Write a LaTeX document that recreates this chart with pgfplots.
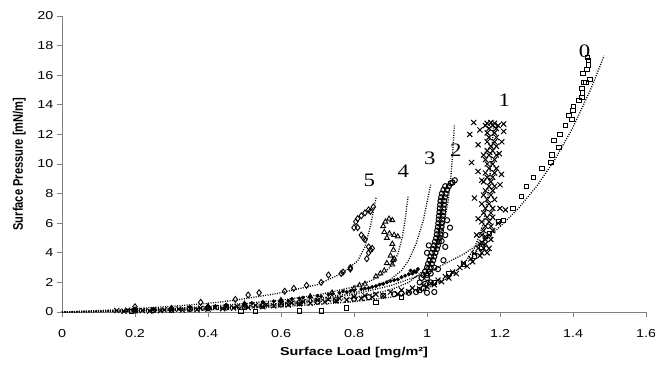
\documentclass[border=0pt]{standalone}
\usepackage{pgfplots}
\pgfplotsset{compat=1.18}
\usepackage{fontspec}
\setmainfont{Liberation Sans}[FakeStretch=1.25]
\newfontfamily\ylabfont{Liberation Sans}[FakeStretch=0.8]
\newfontfamily\timesf{Liberation Serif}[FakeStretch=1.2]
\definecolor{axgray}{RGB}{128,128,128}
\begin{document}
\begin{tikzpicture}[x=1pt,y=1pt]
\path[use as bounding box] (0,0) rectangle (655,365);
\begin{axis}[
  at={(62pt,53pt)}, anchor=south west,
  scale only axis, width=584pt, height=296pt,
  xmin=0, xmax=1.6, ymin=0, ymax=20,
  axis x line*=bottom, axis y line*=left,
  axis line style={axgray, line width=0.8pt, -},
  tick style={axgray, line width=0.8pt},
  tick align=outside, major tick length=5pt,
  xtick={0,0.2,0.4,0.6,0.8,1,1.2,1.4,1.6},
  xticklabels={0,0.2,0.4,0.6,0.8,1,1.2,1.4,1.6},
  ytick={0,2,4,6,8,10,12,14,16,18,20},
  yticklabels={0,2,4,6,8,10,12,14,16,18,20},
  tick label style={font=\fontsize{11.5}{13}\selectfont, black},
  xticklabel style={yshift=-9pt},
  xlabel={\textbf{Surface Load [mg/m²]}},
  ylabel={\ylabfont\bfseries\fontsize{13.9}{15}\selectfont Surface Pressure [mN/m]},
  label style={font=\fontsize{11.5}{13}\selectfont},
  xlabel style={at={(axis description cs:0.5,0)}, anchor=north, inner sep=0pt, yshift=-35pt},
  ylabel style={at={(axis description cs:0,0.5)}, anchor=south, inner sep=0pt, yshift=36pt},
  clip=false,
  every axis plot/.append style={black},
  fitline/.style={no marks, black, line width=1.3pt, dash pattern=on 1pt off 1.4pt},
]
% series 0 (squares)
\addplot[only marks, mark=square, mark size=2.2pt, line width=0.9pt] coordinates {
(0.19,0.02)(0.49,0.02)(0.53,0.02)(0.65,0.07)(0.71,0.08)(0.78,0.27)(0.86,0.65)(0.93,1.0)(0.98,1.5)(1.02,2.0)(1.06,2.6)(1.1,3.2)(1.13,3.8)(1.15,4.4)
(1.171,5.3)(1.196,6.1)(1.209,6.2)(1.236,7.0)(1.258,7.8)(1.272,8.5)(1.291,9.1)(1.315,9.7)(1.340,10.1)(1.342,10.6)(1.361,11.1)(1.348,11.6)(1.364,12.0)
(1.380,12.6)(1.397,13.0)(1.389,13.3)(1.40,13.6)(1.402,13.9)(1.416,14.3)(1.424,14.5)(1.426,14.8)(1.424,15.1)(1.435,15.5)(1.446,15.7)(1.43,15.5)
(1.427,16.1)(1.438,16.4)(1.443,16.7)(1.443,17.0)(1.44,17.2)};
% series 1 (x marks)
\addplot[only marks, mark=x, mark size=3.6pt, line width=1pt] coordinates {
(0.15,0.1)(0.17,0.05)(0.18,0.12)(0.2,0.08)(0.22,0.1)(0.24,0.06)(0.25,0.15)(0.27,0.1)(0.28,0.14)(0.3,0.12)(0.32,0.2)(0.33,0.13)(0.35,0.22)(0.37,0.16)
(0.38,0.25)(0.4,0.2)(0.42,0.3)(0.44,0.22)(0.45,0.33)(0.47,0.27)(0.48,0.38)(0.5,0.42)(0.51,0.3)(0.53,0.45)(0.55,0.36)(0.56,0.5)(0.58,0.42)
(0.6,0.58)(0.62,0.48)(0.63,0.62)(0.65,0.55)(0.66,0.7)(0.68,0.6)(0.7,0.78)(0.72,0.68)(0.73,0.85)(0.75,0.75)(0.76,0.92)(0.78,0.82)(0.8,1.02)
(0.82,0.92)(0.83,1.1)(0.85,1.0)(0.86,1.2)(0.88,1.1)(0.9,1.35)(0.92,1.22)(0.93,1.48)(0.95,1.38)(0.96,1.62)(0.98,1.55)(0.99,1.8)(1.0,1.7)
(1.01,1.95)(1.02,1.85)(1.03,2.15)(1.04,2.05)(1.05,2.4)(1.06,2.3)(1.07,2.7)(1.08,2.6)(1.09,3.0)(1.1,3.3)(1.11,3.1)(1.12,3.6)(1.125,3.4)
(1.13,3.95)(1.14,4.3)(1.145,3.8)(1.15,4.7)(1.16,5.1)
(1.15,4.0)(1.165,4.0)(1.155,4.3)(1.17,4.3)(1.145,4.6)(1.16,4.6)(1.16,4.9)(1.175,4.9)(1.15,5.2)(1.17,5.2)(1.155,5.5)(1.18,5.5)
(1.16,5.8)(1.175,5.8)(1.15,6.1)(1.17,6.1)(1.165,6.4)(1.18,6.4)(1.155,6.7)(1.175,6.7)(1.16,7.0)(1.18,7.0)(1.15,7.3)(1.17,7.3)
(1.165,7.6)(1.185,7.6)(1.155,7.9)(1.175,7.9)(1.16,8.2)(1.18,8.2)(1.17,8.5)(1.185,8.5)(1.155,8.8)(1.175,8.8)(1.165,9.1)(1.18,9.1)
(1.16,9.4)(1.185,9.4)(1.17,9.7)(1.19,9.7)(1.165,10.0)(1.18,10.0)(1.16,10.3)(1.185,10.3)(1.17,10.6)(1.19,10.6)(1.165,10.9)(1.18,10.9)
(1.175,11.2)(1.19,11.2)(1.165,11.5)(1.185,11.5)(1.17,11.8)(1.19,11.8)(1.165,12.1)(1.185,12.1)(1.17,12.4)(1.19,12.4)(1.16,12.6)(1.18,12.6)
(1.195,12.6)(1.165,12.75)(1.185,12.75)(1.175,12.8)
(1.117,12.0)(1.122,10.1)(1.13,7.7)(1.136,5.2)(1.204,9.3)(1.198,10.7)(1.128,12.8)(1.21,12.2)
(1.205,11.5)(1.2,7.0)(1.14,6.3)(1.15,8.9)(1.155,10.6)(1.2,8.6)(1.195,6.0)(1.215,6.9)(1.21,12.7)(1.14,11.3)(1.14,9.5)(1.145,12.3)};
% series 2 (circles)
\addplot[only marks, mark=o, mark size=2.6pt, line width=1pt] coordinates {
(0.2,0.1)(0.25,0.12)(0.3,0.15)(0.35,0.2)(0.4,0.25)(0.45,0.3)(0.5,0.35)(0.55,0.42)(0.6,0.5)(0.65,0.6)(0.7,0.7)(0.75,0.8)(0.8,0.9)
(0.84,1.0)(0.88,1.1)(0.91,1.2)(0.93,1.25)(0.95,1.3)(0.97,1.35)(1.0,1.3)(1.02,1.35)(0.99,1.6)(0.98,2.0)(0.985,2.3)
(0.99,2.5)(1.0,2.5)(0.995,2.75)(1.005,2.75)(1.0,3.0)(1.01,3.0)(1.003,3.25)(1.013,3.25)(1.007,3.5)(1.017,3.5)(1.01,3.75)(1.02,3.75)
(1.013,4.0)(1.023,4.0)(1.017,4.25)(1.027,4.25)(1.02,4.5)(1.03,4.5)(1.022,4.75)(1.032,4.75)(1.025,5.0)(1.035,5.0)(1.027,5.25)(1.037,5.25)
(1.028,5.5)(1.038,5.5)(1.03,5.75)(1.04,5.75)(1.031,6.0)(1.041,6.0)(1.032,6.25)(1.042,6.25)(1.033,6.5)(1.043,6.5)(1.034,6.75)(1.044,6.75)
(1.035,7.0)(1.045,7.0)(1.036,7.25)(1.046,7.25)(1.037,7.5)(1.047,7.5)(1.039,7.75)(1.049,7.75)(1.041,8.0)(1.051,8.0)(1.045,8.25)(1.055,8.25)
(1.05,8.5)(1.06,8.5)(1.065,8.7)(1.076,8.9)(1.07,8.75)
(1.063,5.7)(1.05,4.4)(1.045,3.5)(1.02,3.0)(1.0,2.3)(1.01,2.6)(1.03,2.9)(1.055,6.2)(1.05,5.2)(1.04,4.8)(1.0,4.0)(1.005,4.5)(1.01,2.0)(0.995,1.9)};
% series 3 (filled)
\addplot[only marks, mark=*, mark size=1.8pt] coordinates {
(0.2,0.15)(0.25,0.2)(0.3,0.28)(0.35,0.35)(0.4,0.43)(0.45,0.5)(0.5,0.58)(0.55,0.68)(0.6,0.8)(0.63,0.88)(0.66,0.97)(0.7,1.08)
(0.73,1.18)(0.76,1.3)(0.79,1.42)(0.82,1.55)(0.85,1.7)(0.87,1.85)(0.89,2.0)(0.91,2.15)(0.93,2.35)(0.95,2.55)(0.965,2.75)(0.975,2.9)
(0.62,0.75)(0.68,1.0)(0.74,1.2)(0.8,1.45)(0.86,1.75)(0.92,2.2)(0.42,0.4)(0.52,0.6)(0.58,0.72)(0.71,1.05)(0.78,1.35)(0.84,1.62)(0.88,1.9)(0.94,2.45)
(0.96,2.6)(0.97,2.7)(0.955,2.8)(0.9,2.1)(0.83,1.6)(0.77,1.4)(0.65,0.92)};
% series 4 (triangles)
\addplot[only marks, mark=triangle, mark size=2.8pt, line width=0.9pt] coordinates {
(0.2,0.15)(0.3,0.25)(0.4,0.38)(0.5,0.55)(0.6,0.8)(0.68,1.05)(0.74,1.3)(0.8,1.6)(0.815,1.8)(0.83,1.9)(0.86,2.4)(0.872,2.6)(0.883,2.8)
(0.89,3.3)(0.905,3.2)(0.907,3.5)(0.91,3.6)(0.90,3.8)(0.908,4.2)(0.905,4.6)(0.92,5.1)(0.91,5.2)(0.89,5.0)(0.897,5.3)(0.883,5.4)
(0.88,5.8)(0.886,6.1)(0.896,6.3)(0.905,6.2)};
% series 5 (diamonds)
\addplot[only marks, mark=diamond, mark size=3pt, line width=0.9pt] coordinates {
(0.2,0.35)(0.38,0.65)(0.475,0.85)(0.51,1.15)(0.54,1.3)(0.61,1.4)(0.635,1.6)(0.67,1.8)(0.71,2.0)(0.73,2.5)(0.765,2.6)(0.77,2.7)
(0.79,2.9)(0.79,3.0)(0.835,3.6)(0.84,4.0)(0.845,4.2)(0.85,4.3)(0.84,4.4)(0.83,4.9)(0.826,5.0)(0.82,5.2)(0.81,5.7)(0.80,5.7)
(0.805,6.1)(0.81,6.3)(0.82,6.5)(0.83,6.7)(0.84,6.9)(0.845,6.8)(0.853,7.1)};
% fits
\addplot[fitline] coordinates {(0,0)(0.1,0.027)(0.2,0.067)(0.3,0.126)(0.4,0.211)(0.5,0.338)(0.6,0.523)(0.7,0.795)(0.8,1.194)(0.9,1.78)(1.0,2.641)(1.1,3.904)(1.15,4.745)(1.2,5.759)(1.25,6.989)(1.3,8.48)(1.35,10.29)(1.4,12.48)(1.45,15.13)(1.485,17.31)};
\addplot[fitline] coordinates {(0,0)(0.2,0.05)(0.4,0.15)(0.6,0.35)(0.8,0.7)(0.9,1.0)(1.0,1.6)(1.05,2.2)(1.1,3.2)(1.13,4.3)(1.155,6.0)(1.168,8.0)(1.176,10.2)(1.182,12.6)};
\addplot[fitline] coordinates {(0,0)(0.2,0.07)(0.4,0.2)(0.6,0.45)(0.8,0.95)(0.9,1.5)(0.95,2.0)(1.0,3.0)(1.025,4.2)(1.045,5.8)(1.058,7.5)(1.066,9.3)(1.071,11.0)(1.075,12.6)};
\addplot[fitline] coordinates {(0,0)(0.2,0.1)(0.4,0.27)(0.6,0.6)(0.7,0.9)(0.8,1.3)(0.85,1.65)(0.9,2.2)(0.93,2.8)(0.95,3.5)(0.97,4.6)(0.99,6.2)(1.01,8.6)};
\addplot[fitline] coordinates {(0,0)(0.2,0.13)(0.4,0.36)(0.6,0.8)(0.7,1.15)(0.8,1.7)(0.85,2.15)(0.88,2.6)(0.9,3.05)(0.92,3.9)(0.932,5.0)(0.94,6.2)(0.948,7.8)};
\addplot[fitline] coordinates {(0,0)(0.15,0.15)(0.3,0.38)(0.4,0.58)(0.475,0.8)(0.59,1.25)(0.7,1.85)(0.77,2.65)(0.81,3.45)(0.83,4.4)(0.845,5.8)(0.861,7.8)};
% curve labels
\begin{scope}[every node/.style={font=\timesf\fontsize{19}{19}\selectfont, inner sep=0pt}]
\node at (axis cs:1.432,17.6) {0};
\node at (axis cs:1.212,14.3) {1};
\node at (axis cs:1.079,10.9) {2};
\node at (axis cs:1.008,10.4) {3};
\node at (axis cs:0.935,9.5) {4};
\node at (axis cs:0.842,8.9) {5};
\end{scope}
\end{axis}
\end{tikzpicture}
\end{document}
